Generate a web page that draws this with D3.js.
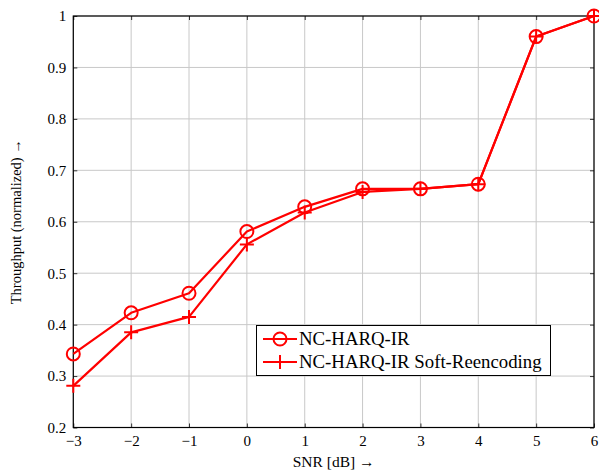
<!DOCTYPE html>
<html><head><meta charset="utf-8">
<script src="https://cdn.jsdelivr.net/npm/d3@7"></script>
<style>body{margin:0;background:#fff}svg{display:block;font-family:'Liberation Serif','Times New Roman',serif}</style>
</head><body>
<svg id="c" width="599" height="474"></svg>
<script>
const snr = [-3,-2,-1,0,1,2,3,4,5,6];
const ncHarqIr = [0.343,0.423,0.461,0.581,0.629,0.664,0.664,0.673,0.960,1.0];
const ncHarqIrSoft = [0.281,0.385,0.415,0.556,0.618,0.658,0.664,0.673,0.960,1.0];
const xTicks = [-3,-2,-1,0,1,2,3,4,5,6];
const yTicks = [0.2,0.3,0.4,0.5,0.6,0.7,0.8,0.9,1];
const seriesNames = ["NC-HARQ-IR","NC-HARQ-IR Soft-Reencoding"];

const svg = d3.select("#c");
const L=73.3, R=594, T=16, B=427.5;
const x = d3.scaleLinear().domain([-3,6]).range([L,R]);
const y = d3.scaleLinear().domain([0.2,1]).range([B,T]);
const font = "'Liberation Serif','Times New Roman',serif";

// grid
svg.append("g").selectAll("line").data(xTicks).join("line")
  .attr("x1",d=>x(d)).attr("x2",d=>x(d)).attr("y1",T).attr("y2",B)
  .attr("stroke","#c8c8c8").attr("stroke-width",1);
svg.append("g").selectAll("line").data(yTicks).join("line")
  .attr("y1",d=>y(d)).attr("y2",d=>y(d)).attr("x1",L).attr("x2",R)
  .attr("stroke","#c8c8c8").attr("stroke-width",1);

// axes (ticks inward)
svg.append("g").attr("transform",`translate(0,${B})`)
  .call(d3.axisBottom(x).tickValues(xTicks).tickSizeInner(-4).tickSizeOuter(0).tickPadding(8)
  .tickFormat(d=>d<0?"\u2212"+Math.abs(d):d));
svg.append("g").attr("transform",`translate(${L},0)`)
  .call(d3.axisLeft(y).tickValues(yTicks).tickSizeInner(-4).tickSizeOuter(0).tickPadding(7)
  .tickFormat(d=>d===1?"1":d3.format(".1f")(d)));
svg.append("g").attr("transform",`translate(0,${T})`)
  .call(d3.axisTop(x).tickValues(xTicks).tickSizeInner(-4).tickSizeOuter(0).tickFormat(""));
svg.append("g").attr("transform",`translate(${R},0)`)
  .call(d3.axisRight(y).tickValues(yTicks).tickSizeInner(-4).tickSizeOuter(0).tickFormat(""));
svg.selectAll(".domain").remove();
svg.selectAll("g").attr("font-family",font);
svg.selectAll(".tick line").attr("stroke","#333");
svg.selectAll(".tick text").attr("font-family",font).attr("font-size",15).attr("fill","#000");

svg.append("rect").attr("x",L).attr("y",T).attr("width",R-L).attr("height",B-T)
  .attr("fill","none").attr("stroke","#000").attr("stroke-width",1.2);

// axis labels
svg.append("text").attr("x",(L+R)/2).attr("y",467).attr("text-anchor","middle")
  .attr("font-family",font).attr("font-size",15.5).text("SNR [dB] \u2192");
svg.append("text").attr("transform",`translate(21,${(T+B)/2}) rotate(-90)`).attr("text-anchor","middle")
  .attr("font-family",font).attr("font-size",14.5).text("Throughput (normalized) \u2192");

const red="#ff0000";
const line = d3.line().x((d,i)=>x(snr[i])).y(d=>y(d));
const plusPath = (cx,cy,s)=>`M${cx-s},${cy}H${cx+s}M${cx},${cy-s}V${cy+s}`;

function drawSeries(vals, marker){
  svg.append("path").datum(vals).attr("d",line).attr("fill","none")
    .attr("stroke",red).attr("stroke-width",2.2).attr("stroke-linejoin","round");
  const g = svg.append("g");
  if(marker==="o"){
    g.selectAll("circle").data(vals).join("circle")
      .attr("cx",(d,i)=>x(snr[i])).attr("cy",d=>y(d)).attr("r",6.5)
      .attr("fill","none").attr("stroke",red).attr("stroke-width",2);
  } else {
    g.selectAll("path").data(vals).join("path")
      .attr("d",(d,i)=>plusPath(x(snr[i]),y(d),7))
      .attr("stroke",red).attr("stroke-width",2).attr("fill","none");
  }
}
drawSeries(ncHarqIrSoft,"+");
drawSeries(ncHarqIr,"o");

// legend
const lg = svg.append("g");
lg.append("rect").attr("x",256.5).attr("y",325.5).attr("width",294).attr("height",50)
  .attr("fill","#fff").attr("stroke","#000").attr("stroke-width",1);
const rows=[{n:seriesNames[0],m:"o",yy:339},{n:seriesNames[1],m:"+",yy:362}];
rows.forEach(r=>{
  lg.append("line").attr("x1",263).attr("x2",297).attr("y1",r.yy).attr("y2",r.yy)
    .attr("stroke",red).attr("stroke-width",2.2);
  if(r.m==="o") lg.append("circle").attr("cx",280).attr("cy",r.yy).attr("r",6.5)
    .attr("fill","none").attr("stroke",red).attr("stroke-width",2);
  else lg.append("path").attr("d",plusPath(280,r.yy,7)).attr("stroke",red).attr("stroke-width",2);
  lg.append("text").attr("x",299).attr("y",r.yy+6).attr("font-family",font).attr("font-size",18.8)
    .text(r.n);
});
</script>
</body></html>
